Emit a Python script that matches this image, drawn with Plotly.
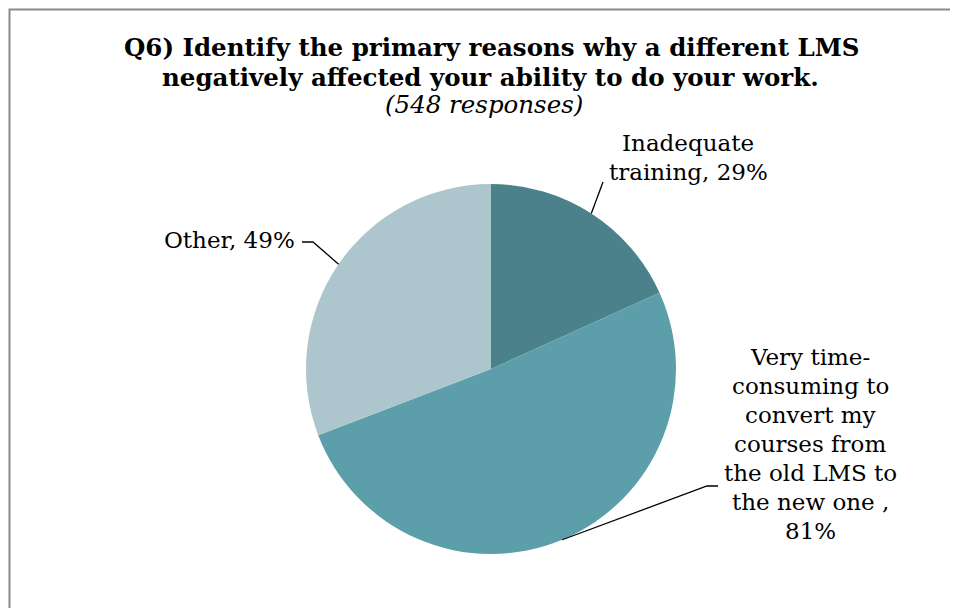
""" Q6 pie chart: reasons a different LMS hurt work """

import math
import plotly.graph_objects as go

labels = [
    'Inadequate training',
    'Very time-consuming to convert my courses from the old LMS to the new one ',
    'Other',
]
values = [29, 81, 49]
colors = ['#4a818a', '#5c9eaa', '#adc5cc']

# how each label is broken into lines, as in the original
label_lines = [
    ['Inadequate', 'training, 29%'],
    ['Very time-', 'consuming to', 'convert my', 'courses from',
     'the old LMS to', 'the new one ,', '81%'],
    ['Other, 49%'],
]

W, H = 958, 608
OFF = 8  # page body margin, the figure is drawn 8px in from the corner
FONT = 'Georgia, DejaVu Serif, serif'

# pie placement in screen pixels
cx, cy, r = 491, 369, 185


def px_x(x):
    return (x - OFF) / W


def px_y(y):
    return 1 - (y - OFF) / H


fig = go.Figure(go.Pie(
    labels=labels,
    values=values,
    sort=False,
    direction='clockwise',
    rotation=0,
    marker=dict(colors=colors, line=dict(width=0)),
    textinfo='none',
    hoverinfo='label+value',
    showlegend=False,
    domain=dict(x=[px_x(cx - r), px_x(cx + r)], y=[px_y(cy + r), px_y(cy - r)]),
))

# label text centres and leader line elbows (pixels)
label_pos = [(688, 143), (810, 357), (229, 240)]
elbows = [None, [(718, 486), (707, 486)], [(302, 242), (313, 242)]]
line_gap = 29

total = sum(values)
start = 0.0
for i, v in enumerate(values):
    mid = start + v / total * 180.0
    start += v / total * 360.0
    ang = math.radians(mid)
    ex, ey = cx + r * math.sin(ang), cy - r * math.cos(ang)

    lx, ly = label_pos[i]
    for j, line in enumerate(label_lines[i]):
        fig.add_annotation(
            x=px_x(lx), y=px_y(ly + j * line_gap), xref='paper', yref='paper',
            text=line, showarrow=False, xanchor='center', yanchor='middle',
            font=dict(family=FONT, size=23, color='#000000'),
        )

    if elbows[i] is None:
        pts = [(603, 182), (ex, ey)]
    else:
        pts = elbows[i] + [(ex, ey)]
    path = 'M ' + ' L '.join(f'{px_x(x)} {px_y(y)}' for x, y in pts)
    fig.add_shape(type='path', path=path, xref='paper', yref='paper',
                  line=dict(color='#000000', width=1.3))

# chart border (runs off the right and bottom edges)
fig.add_shape(type='rect', xref='paper', yref='paper',
              x0=px_x(9.5), y0=px_y(640), x1=px_x(990), y1=px_y(9.5),
              line=dict(color='#8a8a8a', width=2))

fig.add_annotation(
    x=px_x(492), y=px_y(48), xref='paper', yref='paper', showarrow=False,
    text='<b>Q6) Identify the primary reasons why a different LMS</b>',
    xanchor='center', yanchor='middle',
    font=dict(family=FONT, size=24.5, color='#000000'),
)
fig.add_annotation(
    x=px_x(491), y=px_y(77), xref='paper', yref='paper', showarrow=False,
    text='<b>negatively affected your ability to do your work.</b>',
    xanchor='center', yanchor='middle',
    font=dict(family=FONT, size=24.5, color='#000000'),
)
fig.add_annotation(
    x=px_x(484), y=px_y(104), xref='paper', yref='paper', showarrow=False,
    text='<i>(548 responses)</i>',
    xanchor='center', yanchor='middle',
    font=dict(family=FONT, size=24.5, color='#000000'),
)

fig.update_layout(
    width=W, height=H,
    margin=dict(l=0, r=0, t=0, b=0),
    paper_bgcolor='white',
    plot_bgcolor='white',
)

fig.write_html('out.html')
